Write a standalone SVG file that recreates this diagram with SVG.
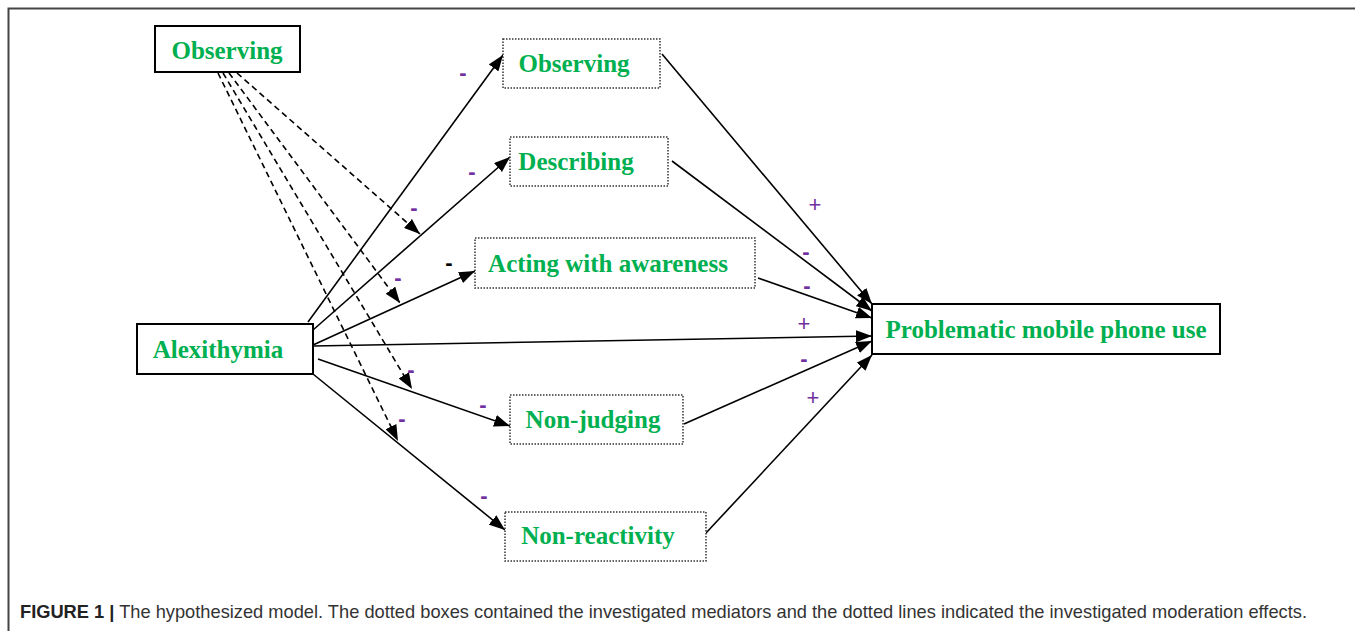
<svg xmlns="http://www.w3.org/2000/svg" width="1355" height="631" viewBox="0 0 1355 631">
<style>
.box{fill:#fff;stroke:#000;stroke-width:2}
.dbox{fill:#fff;stroke:#333;stroke-width:1.5;stroke-dasharray:1.5 1.5}
.lbl{font-family:"Liberation Serif","Times New Roman",serif;font-weight:bold;font-size:25px;fill:#00B050;text-anchor:middle;dominant-baseline:central}
.ln{stroke:#000;stroke-width:1.6;fill:none;marker-end:url(#ah)}
.dl{stroke:#000;stroke-width:1.6;fill:none;stroke-dasharray:6 4;marker-end:url(#ah)}
.sg{font-family:"Liberation Sans",Arial,sans-serif;font-size:22px;fill:#7030A0;text-anchor:middle;dominant-baseline:central}
.mn{font-weight:bold}
.cap{font-family:"Liberation Sans",Arial,sans-serif;font-size:19px;fill:#333}
</style>
<defs>
<marker id="ah" viewBox="0 0 16 12" refX="16" refY="6" markerWidth="16" markerHeight="12" markerUnits="userSpaceOnUse" orient="auto">
<path d="M0,0 L16,6 L0,12 Z" fill="#000"/>
</marker>
</defs>
<rect x="0" y="0" width="1355" height="631" fill="#fff"/>
<path d="M8.5,631 L8.5,8.5 L1355,8.5" fill="none" stroke="#444" stroke-width="2"/>

<g id="connectors">
<line class="ln" x1="308" y1="322" x2="503" y2="55"/>
<line class="ln" x1="313" y1="330" x2="510" y2="157"/>
<line class="ln" x1="313" y1="345" x2="475" y2="271"/>
<line class="ln" x1="313" y1="346" x2="872" y2="336"/>
<line class="ln" x1="318" y1="359" x2="510" y2="426"/>
<line class="ln" x1="313" y1="374" x2="505" y2="530"/>
<line class="ln" x1="662" y1="54" x2="872" y2="304"/>
<line class="ln" x1="672" y1="161" x2="872" y2="311"/>
<line class="ln" x1="758" y1="278" x2="872" y2="318"/>
<line class="ln" x1="684" y1="424" x2="872" y2="341"/>
<line class="ln" x1="706" y1="533" x2="872" y2="355"/>
<line class="dl" x1="237" y1="73" x2="420" y2="234"/>
<line class="dl" x1="229" y1="73" x2="400" y2="303"/>
<line class="dl" x1="223" y1="73" x2="412" y2="389"/>
<line class="dl" x1="218" y1="73" x2="398" y2="441"/>
</g>

<g id="n-observing-mod"><rect class="box" x="155" y="26" width="145" height="46"/><text class="lbl" x="227" y="50">Observing</text></g>
<g id="n-observing"><rect class="dbox" x="503" y="39" width="157" height="49"/><text class="lbl" x="574" y="63">Observing</text></g>
<g id="n-describing"><rect class="dbox" x="510" y="137" width="158" height="49"/><text class="lbl" x="576" y="161">Describing</text></g>
<g id="n-acting"><rect class="dbox" x="475" y="238" width="280" height="50"/><text class="lbl" x="608" y="263">Acting with awareness</text></g>
<g id="n-alexithymia"><rect class="box" x="137" y="324" width="176" height="50"/><text class="lbl" x="218" y="349">Alexithymia</text></g>
<g id="n-pmpu"><rect class="box" x="872" y="304" width="348" height="50"/><text class="lbl" x="1046" y="329">Problematic mobile phone use</text></g>
<g id="n-nonjudging"><rect class="dbox" x="510" y="395" width="173" height="49"/><text class="lbl" x="593" y="419">Non-judging</text></g>
<g id="n-nonreactivity"><rect class="dbox" x="505" y="512" width="201" height="49"/><text class="lbl" x="598" y="535">Non-reactivity</text></g>

<g id="signs">
<text class="sg mn" x="463" y="72">-</text>
<text class="sg mn" x="472" y="171">-</text>
<text class="sg mn" x="449" y="262" style="fill:#000">-</text>
<text class="sg mn" x="414" y="207">-</text>
<text class="sg mn" x="398" y="277">-</text>
<text class="sg mn" x="411" y="369">-</text>
<text class="sg mn" x="402" y="418">-</text>
<text class="sg mn" x="483" y="404">-</text>
<text class="sg mn" x="484" y="495">-</text>
<text class="sg" x="815" y="204">+</text>
<text class="sg mn" x="806" y="251">-</text>
<text class="sg mn" x="807" y="285">-</text>
<text class="sg" x="804" y="323">+</text>
<text class="sg mn" x="804" y="358">-</text>
<text class="sg" x="813" y="397">+</text>
</g>

<text class="cap" x="20" y="618" textLength="1287" lengthAdjust="spacingAndGlyphs"><tspan font-weight="bold" fill="#222">FIGURE 1 |</tspan> The hypothesized model. The dotted boxes contained the investigated mediators and the dotted lines indicated the investigated moderation effects.</text>
</svg>
